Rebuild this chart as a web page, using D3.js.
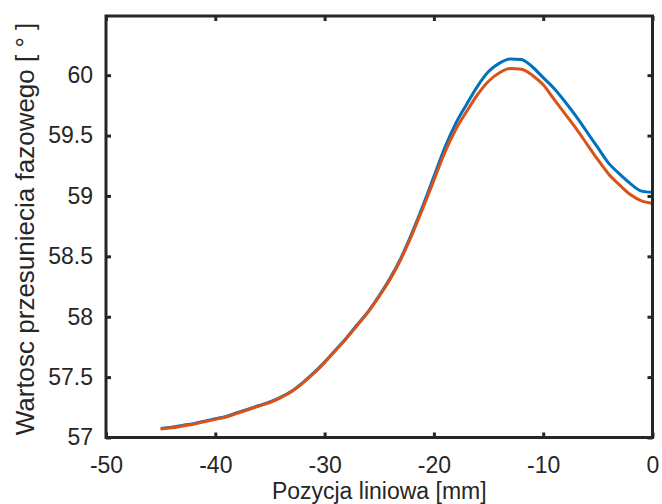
<!DOCTYPE html>
<html>
<head>
<meta charset="utf-8">
<script src="https://cdn.jsdelivr.net/npm/d3@7"></script>
<style>
html,body{margin:0;padding:0;background:#fff;}
svg{display:block;}
text{font-family:"Liberation Sans",Arial,Helvetica,sans-serif;fill:#262626;}
</style>
</head>
<body>
<svg id="chart" width="662" height="504"></svg>
<script>
const xPositions = [-45,-44,-43,-42,-41,-40,-39,-38,-37,-36,-35,-34,-33,-32,-31,-30,-29,-28,-27,-26,-25,-24,-23,-22,-21,-20,-19,-18,-17,-16,-15,-14,-13,-12,-11,-10,-9,-8,-7,-6,-5,-4,-3,-2,-1,0];
const seriesBlue = [57.075,57.085,57.10,57.115,57.135,57.155,57.175,57.205,57.235,57.265,57.295,57.335,57.385,57.455,57.535,57.625,57.725,57.825,57.935,58.045,58.175,58.32,58.49,58.695,58.92,59.16,59.40,59.60,59.76,59.91,60.03,60.10,60.135,60.13,60.07,59.98,59.89,59.78,59.66,59.53,59.40,59.27,59.18,59.10,59.04,59.03];
const seriesOrange = [57.07,57.08,57.095,57.11,57.13,57.15,57.17,57.20,57.23,57.26,57.29,57.33,57.38,57.45,57.53,57.62,57.72,57.82,57.93,58.04,58.17,58.31,58.48,58.68,58.90,59.13,59.36,59.55,59.70,59.84,59.95,60.02,60.055,60.05,60.0,59.92,59.80,59.68,59.56,59.43,59.30,59.18,59.09,59.01,58.96,58.94];
const xTicks = [-50,-40,-30,-20,-10,0];
const yTicks = [57,57.5,58,58.5,59,59.5,60];
const xLabel = "Pozycja liniowa [mm]";
const yLabel = "Wartosc przesuniecia fazowego [ \u00b0 ]";

const svg = d3.select("#chart");
const L = 106, R = 652.5, T = 16, B = 437.5;
const x = d3.scaleLinear().domain([-50, 0]).range([L, R]);
const y = d3.scaleLinear().domain([57, 60.49]).range([B, T]);
const axisColor = "#262626";
const fmt = d => String(d);

// lines
const line = (vals) => d3.line().curve(d3.curveMonotoneX).x((d,i)=>x(xPositions[i])).y(d=>y(d))(vals);
svg.append("path").attr("d", line(seriesBlue)).attr("fill","none").attr("stroke","#0072BD").attr("stroke-width",3).attr("stroke-linejoin","round");
svg.append("path").attr("d", line(seriesOrange)).attr("fill","none").attr("stroke","#D95319").attr("stroke-width",3).attr("stroke-linejoin","round");

// axes
function styleAxis(g){
  g.select(".domain").remove();
  g.selectAll(".tick line").attr("stroke",axisColor).attr("stroke-width",3);
  g.selectAll(".tick text").attr("font-size","23px").attr("fill",axisColor).style("font-family","'Liberation Sans',Arial,sans-serif");
}
const tl = 5;
svg.append("g").attr("transform",`translate(0,${B})`)
  .call(d3.axisBottom(x).tickValues(xTicks).tickFormat(fmt).tickSizeInner(-tl).tickSizeOuter(0).tickPadding(19))
  .call(styleAxis);
svg.append("g").attr("transform",`translate(0,${T})`)
  .call(d3.axisTop(x).tickValues(xTicks).tickFormat("").tickSizeInner(-tl).tickSizeOuter(0))
  .call(styleAxis);
svg.append("g").attr("transform",`translate(${L},0)`)
  .call(d3.axisLeft(y).tickValues(yTicks).tickFormat(fmt).tickSizeInner(-tl).tickSizeOuter(0).tickPadding(13))
  .call(styleAxis);
svg.append("g").attr("transform",`translate(${R},0)`)
  .call(d3.axisRight(y).tickValues(yTicks).tickFormat("").tickSizeInner(-tl).tickSizeOuter(0))
  .call(styleAxis);

// box
svg.append("rect").attr("x",L).attr("y",T).attr("width",R-L).attr("height",B-T)
  .attr("fill","none").attr("stroke",axisColor).attr("stroke-width",3).attr("stroke-linejoin","miter");

// labels
svg.append("text").attr("x",(L+R)/2).attr("y",499).attr("text-anchor","middle").attr("font-size","23px").text(xLabel);
svg.append("text").attr("transform",`translate(34,229) rotate(-90)`).attr("text-anchor","middle").attr("font-size","26px").text(yLabel);
</script>
</body>
</html>
